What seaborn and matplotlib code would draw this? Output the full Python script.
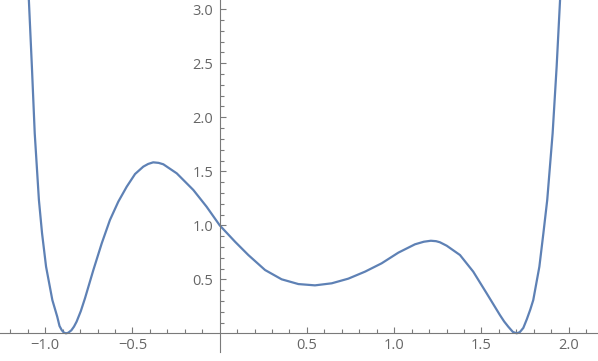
import matplotlib
matplotlib.use("Agg")
import matplotlib.pyplot as plt
import seaborn as sns
import numpy as np
import pandas as pd
from matplotlib.ticker import FixedLocator, FixedFormatter

# Curve points
x_vals = [-1.094, -1.076, -1.060, -1.036, -1.018, -0.995, -0.959, -0.931, -0.918, -0.905,
          -0.893, -0.881, -0.868, -0.850, -0.835, -0.820, -0.796, -0.772, -0.724, -0.676,
          -0.629, -0.581, -0.533, -0.485, -0.438, -0.410, -0.381, -0.350, -0.323, -0.246,
          -0.151, -0.075, 0.000, 0.088, 0.164, 0.260, 0.355, 0.451, 0.546, 0.642,
          0.737, 0.833, 0.928, 1.024, 1.119, 1.170, 1.210, 1.240, 1.262, 1.301,
          1.377, 1.453, 1.530, 1.606, 1.630, 1.654, 1.680, 1.702, 1.720, 1.740,
          1.760, 1.780, 1.797, 1.832, 1.855, 1.877, 1.908, 1.931, 1.951]
y_vals = [3.100, 2.460, 1.852, 1.234, 0.926, 0.617, 0.308, 0.154, 0.068, 0.029,
          0.007, 0.000, 0.005, 0.028, 0.062, 0.108, 0.205, 0.324, 0.586, 0.833,
          1.049, 1.219, 1.357, 1.475, 1.543, 1.568, 1.583, 1.578, 1.565, 1.481,
          1.327, 1.172, 1.000, 0.848, 0.725, 0.586, 0.500, 0.456, 0.444, 0.463,
          0.506, 0.571, 0.648, 0.747, 0.824, 0.848, 0.857, 0.853, 0.843, 0.811,
          0.725, 0.571, 0.370, 0.169, 0.110, 0.061, 0.013, 0.000, 0.011, 0.050,
          0.130, 0.220, 0.308, 0.617, 0.926, 1.234, 1.852, 2.469, 3.100]

x_ticks = [-1.0, -0.5, 0.5, 1.0, 1.5, 2.0]
x_tick_labels = ["\u22121.0", "\u22120.5", "0.5", "1.0", "1.5", "2.0"]
y_ticks = [0.5, 1.0, 1.5, 2.0, 2.5, 3.0]
y_tick_labels = ["0.5", "1.0", "1.5", "2.0", "2.5", "3.0"]

sns.set_theme(style="white")
plt.rcParams['font.family'] = ['Open Sans', 'DejaVu Sans']

fig = plt.figure(figsize=(5.98, 3.61), dpi=100)
ax = fig.add_axes([0, 9 / 361, 1, 352 / 361])

df = pd.DataFrame({"x": x_vals, "y": y_vals})
sns.lineplot(data=df, x="x", y="y", ax=ax, color="#5E81B5", linewidth=1.6,
             estimator=None, sort=False, solid_joinstyle="round",
             solid_capstyle="round")

ax.set_xlim(-1.259, 2.168)
ax.set_ylim(-0.173, 3.086)
ax.set_xlabel("")
ax.set_ylabel("")

for s in ["top", "right"]:
    ax.spines[s].set_visible(False)
ax.spines["left"].set_position(("data", 0))
ax.spines["bottom"].set_position(("data", 0))
for s in ["left", "bottom"]:
    ax.spines[s].set_color("#7a7a7a")
    ax.spines[s].set_linewidth(0.8)

ax.xaxis.set_major_locator(FixedLocator(x_ticks))
ax.xaxis.set_major_formatter(FixedFormatter(x_tick_labels))
ax.yaxis.set_major_locator(FixedLocator(y_ticks))
ax.yaxis.set_major_formatter(FixedFormatter(y_tick_labels))

xm = [v / 10 for v in range(-12, 22) if v % 5 != 0]
ym = [v / 10 for v in range(1, 31) if v % 5 != 0]
ax.xaxis.set_minor_locator(FixedLocator(xm))
ax.yaxis.set_minor_locator(FixedLocator(ym))

ax.tick_params(which="major", direction="in", length=4.3, width=0.8, color="#7a7a7a",
               labelsize=10.5, labelcolor="#666666", bottom=True, left=True)
ax.tick_params(which="minor", direction="in", length=2.9, width=0.8, color="#7a7a7a",
               bottom=True, left=True)
ax.tick_params(axis="x", which="major", pad=3.5)
ax.tick_params(axis="y", which="major", pad=4.5)

fig.savefig("out.png", dpi=100)
